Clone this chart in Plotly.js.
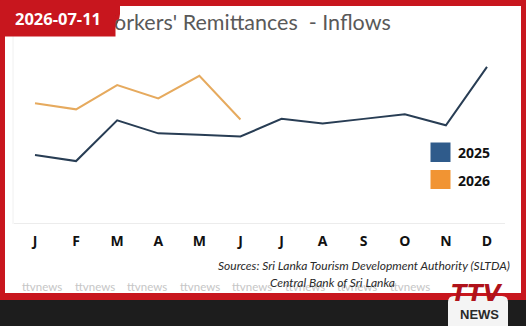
<!DOCTYPE html>
<html>
<head>
<meta charset="utf-8">
<script src="https://cdn.plot.ly/plotly-3.0.1.min.js"></script>
<style>
  html, body { margin: 0; padding: 0; background: #ffffff; }
  #chart { width: 526px; height: 326px; }
</style>
</head>
<body>
<div id="chart"></div>
<script>
// ---- data ----
const months = ['J','F','M','A','M','J','J','A','S','O','N','D'];
const series2025Name = '2025';
const series2026Name = '2026';
const values2025 = [573, 552, 693, 648, 643, 637, 698, 682, 698, 714, 676, 878];
const values2026 = [752, 731, 815, 769, 847, 696];
const titleText = "Workers' Remittances \u00a0- Inflows";
const dateText = '2026-07-11';
const sourceLine1 = 'Sources: Sri Lanka Tourism Development Authority (SLTDA)';
const sourceLine2 = 'Central Bank of Sri Lanka';
const watermark = 'ttvnews';

// ---- helpers (figure pixel -> paper) ----
const W = 526, H = 326;
const X = px => px / W;
const Y = py => 1 - py / H;

const idx = months.map((m, i) => i);

const traces = [
  {
    x: idx, y: values2025, type: 'scatter', mode: 'lines', name: series2025Name,
    line: { color: '#283D54', width: 2 }, hoverinfo: 'skip'
  },
  {
    x: idx.slice(0, values2026.length), y: values2026, type: 'scatter', mode: 'lines', name: series2026Name,
    line: { color: '#E6AA5E', width: 2 }, hoverinfo: 'skip'
  }
];

const unit = (487 - 35) / 11;
const shapes = [
  // dark bottom strip
  { type: 'rect', xref: 'paper', yref: 'paper', x0: 0, x1: 1, y0: Y(326), y1: Y(299), fillcolor: '#1d1d1d', line: { width: 0 }, layer: 'below' },
  // red frame
  { type: 'rect', xref: 'paper', yref: 'paper', x0: 0, x1: 1, y0: Y(6), y1: 1, fillcolor: '#C8161E', line: { width: 0 }, layer: 'below' },
  { type: 'rect', xref: 'paper', yref: 'paper', x0: 0, x1: X(5), y0: Y(300), y1: 1, fillcolor: '#C8161E', line: { width: 0 }, layer: 'below' },
  { type: 'rect', xref: 'paper', yref: 'paper', x0: X(521), x1: 1, y0: Y(300), y1: 1, fillcolor: '#C8161E', line: { width: 0 }, layer: 'below' },
  { type: 'rect', xref: 'paper', yref: 'paper', x0: 0, x1: 1, y0: Y(300), y1: Y(293), fillcolor: '#C8161E', line: { width: 0 }, layer: 'below' },
  // faint slide border lines
  { type: 'line', xref: 'paper', yref: 'paper', x0: X(13), x1: X(13), y0: Y(224), y1: Y(36), line: { color: '#f0f0f0', width: 1 }, layer: 'below' },
  { type: 'line', xref: 'paper', yref: 'paper', x0: X(14), x1: X(505), y0: Y(223.5), y1: Y(223.5), line: { color: '#ececec', width: 1 }, layer: 'below' },
  // badge rounded corner
  { type: 'path', xref: 'paper', yref: 'paper',
    path: `M ${X(100)} ${Y(0)} L ${X(120)} ${Y(0)} L ${X(120)} ${Y(14)} Q ${X(118)} ${Y(33)} ${X(100)} ${Y(33)} Z`,
    fillcolor: '#C8161E', line: { width: 0 }, layer: 'below' },
  // legend squares
  { type: 'rect', xref: 'paper', yref: 'paper', x0: X(430.5), x1: X(450.5), y0: Y(162), y1: Y(142.5), fillcolor: '#2F5B8B', line: { width: 0 } },
  { type: 'rect', xref: 'paper', yref: 'paper', x0: X(430.5), x1: X(450.5), y0: Y(189), y1: Y(170), fillcolor: '#F19433', line: { width: 0 } },
  // logo tile
  { type: 'path', xref: 'paper', yref: 'paper',
    path: `M ${X(448)} ${Y(326)} L ${X(448)} ${Y(302)} Q ${X(448)} ${Y(296)} ${X(454)} ${Y(296)} L ${X(502)} ${Y(296)} Q ${X(508)} ${Y(296)} ${X(508)} ${Y(302)} L ${X(508)} ${Y(326)} Z`,
    fillcolor: '#f4f4f4', line: { width: 0 } }
];

const annotations = [
  { xref: 'paper', yref: 'paper', x: X(393), y: Y(22), xanchor: 'right', yanchor: 'middle', showarrow: false,
    text: titleText, font: { family: 'Lato, "Open Sans", sans-serif', size: 21.5, color: '#595959' } },
  // date badge (on top of title)
  { xref: 'paper', yref: 'paper', x: 0, y: 1, xanchor: 'left', yanchor: 'top', showarrow: false,
    width: 112, height: 33, bgcolor: '#C8161E', align: 'center', valign: 'middle',
    text: dateText, font: { family: '"Open Sans", Lato, sans-serif', size: 16.5, color: '#ffffff', weight: 'bold' } },
  // legend labels
  { xref: 'paper', yref: 'paper', x: X(456), y: Y(152.5), xanchor: 'left', yanchor: 'middle', showarrow: false,
    text: series2025Name, font: { family: '"Open Sans", sans-serif', size: 14, color: '#111111', weight: 'bold' } },
  { xref: 'paper', yref: 'paper', x: X(456), y: Y(180), xanchor: 'left', yanchor: 'middle', showarrow: false,
    text: series2026Name, font: { family: '"Open Sans", sans-serif', size: 14, color: '#111111', weight: 'bold' } }
];

// watermark row
const wmCenters = [42, 94.5, 147, 199.5, 252, 305, 357, 410];
wmCenters.forEach(c => annotations.push({
  xref: 'paper', yref: 'paper', x: X(c), y: Y(286.5), xanchor: 'center', yanchor: 'middle', showarrow: false,
  text: watermark, font: { family: 'Lato, sans-serif', size: 11.5, color: '#c6c6c6' }
}));

// sources
annotations.push(
  { xref: 'paper', yref: 'paper', x: X(512), y: Y(265.5), xanchor: 'right', yanchor: 'middle', showarrow: false,
    text: sourceLine1, font: { family: 'Lato, sans-serif', size: 12, color: '#2a2a2a', style: 'italic' } },
  { xref: 'paper', yref: 'paper', x: X(268), y: Y(282), xanchor: 'left', yanchor: 'middle', showarrow: false,
    text: sourceLine2, font: { family: 'Lato, sans-serif', size: 12, color: '#2a2a2a', style: 'italic' } },
  // logo text
  { xref: 'paper', yref: 'paper', x: X(477), y: Y(293), xanchor: 'center', yanchor: 'middle', showarrow: false,
    text: 'TTV', font: { family: '"DejaVu Sans", sans-serif', size: 23, color: '#B0121A', weight: 'bold', style: 'italic' } },
  { xref: 'paper', yref: 'paper', x: X(479), y: Y(314), xanchor: 'center', yanchor: 'middle', showarrow: false,
    text: 'NEWS', font: { family: '"Liberation Sans", sans-serif', size: 13, color: '#2a2a2a', weight: 'bold' } }
);

const layout = {
  width: W, height: H,
  margin: { l: 0, r: 0, t: 0, b: 0 },
  paper_bgcolor: '#ffffff', plot_bgcolor: 'rgba(0,0,0,0)',
  showlegend: false,
  xaxis: {
    domain: [0, 1],
    range: [-35 / unit, 11 + (W - 487) / unit],
    tickvals: idx, ticktext: months,
    showgrid: false, zeroline: false, showline: false, ticks: '',
    ticklabelstandoff: 7,
    tickfont: { family: '"Open Sans", sans-serif', size: 14, color: '#111111', weight: 'bold' },
    fixedrange: true
  },
  yaxis: {
    domain: [Y(224), Y(40)],
    range: [334.3, 970.9],
    showgrid: false, zeroline: false, showline: false, showticklabels: false, ticks: '',
    fixedrange: true
  },
  shapes: shapes,
  annotations: annotations
};

Plotly.newPlot('chart', traces, layout, { displayModeBar: false, staticPlot: true });
</script>
</body>
</html>
